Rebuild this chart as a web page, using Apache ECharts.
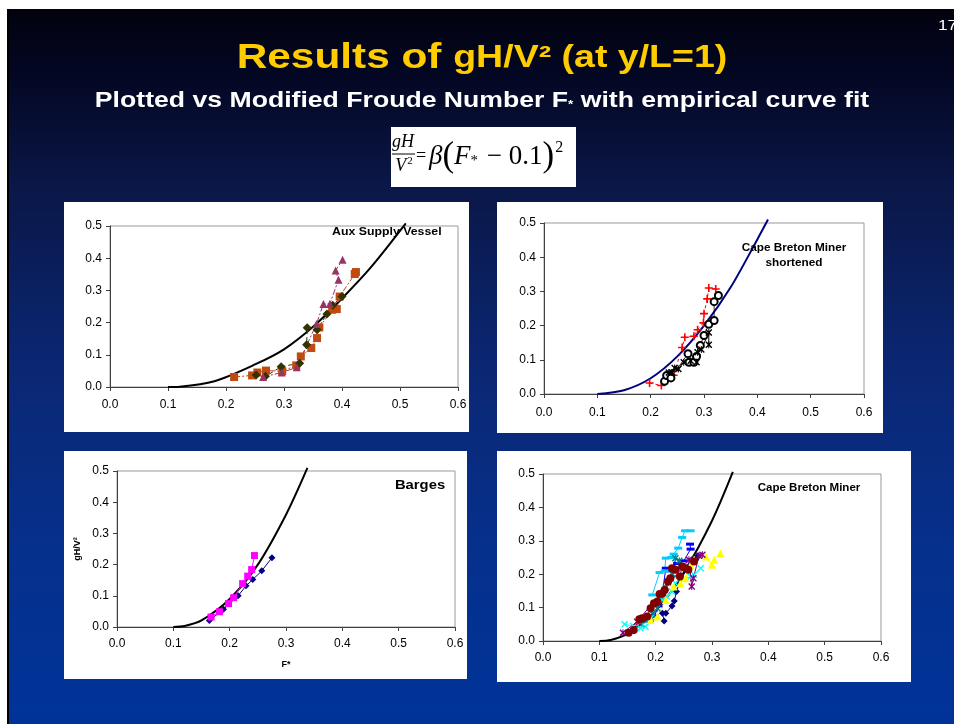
<!DOCTYPE html>
<html><head><meta charset="utf-8">
<script src="https://cdn.jsdelivr.net/npm/echarts@6/dist/echarts.min.js"></script>
<style>html,body{margin:0;padding:0;background:#fff}#c{width:954px;height:724px}</style>
</head><body><div id="c"></div>
<script>
// ---------- DATA ----------
const xMin = 0, xMax = 0.6, xStep = 0.1;
const yMin = 0, yMax = 0.5, yStep = 0.1;
const panelLabels = ['Aux Supply Vessel', 'Cape Breton Miner\nshortened', 'Barges', 'Cape Breton Miner'];
const yAxisTitle = 'gH/V²';
const xAxisTitle = 'F*';

// Panel 1: Aux Supply Vessel
const auxFit = [[0.10,0.000],[0.12,0.001],[0.18,0.018],[0.25,0.070],[0.30,0.117],[0.35,0.187],[0.40,0.275],[0.45,0.372],[0.51,0.508]];
const auxSquares = [[0.214,0.031],[0.245,0.036],[0.254,0.045],[0.269,0.051],[0.297,0.049],[0.321,0.067],[0.329,0.095],[0.347,0.121],[0.357,0.152],[0.361,0.185],[0.383,0.240],[0.391,0.242],[0.396,0.281],[0.422,0.351],[0.424,0.357]];
const auxDiamonds = [[0.252,0.037],[0.268,0.033],[0.295,0.063],[0.327,0.074],[0.339,0.131],[0.340,0.184],[0.357,0.178],[0.374,0.227],[0.384,0.254],[0.400,0.281]];
const auxTriangles = [[0.264,0.031],[0.296,0.045],[0.322,0.061],[0.356,0.196],[0.368,0.258],[0.379,0.258],[0.394,0.333],[0.389,0.362],[0.401,0.395]];

// Panel 2: Cape Breton Miner shortened
const cbsFit = [[0.10,0.000],[0.15,0.011],[0.20,0.046],[0.25,0.110],[0.30,0.200],[0.35,0.312],[0.40,0.452],[0.42,0.510]];
const cbsPlus = [[0.198,0.032],[0.220,0.025],[0.243,0.055],[0.259,0.136],[0.264,0.166],[0.281,0.169],[0.288,0.188],[0.299,0.208],[0.300,0.235],[0.306,0.278],[0.309,0.310],[0.322,0.307]];
const cbsCircles = [[0.226,0.037],[0.230,0.054],[0.238,0.047],[0.270,0.118],[0.272,0.093],[0.281,0.093],[0.286,0.110],[0.293,0.142],[0.300,0.171],[0.309,0.204],[0.319,0.215],[0.319,0.270],[0.327,0.288]];
const cbsStars = [[0.234,0.063],[0.240,0.063],[0.245,0.076],[0.252,0.073],[0.262,0.093],[0.275,0.097],[0.286,0.093],[0.288,0.122],[0.295,0.130],[0.309,0.180],[0.309,0.144]];

// Panel 3: Barges
const bargeFit = [[0.10,0.000],[0.12,0.003],[0.15,0.021],[0.20,0.090],[0.25,0.200],[0.30,0.360],[0.338,0.510]];
const bargeDiamonds = [[0.164,0.021],[0.189,0.057],[0.215,0.100],[0.229,0.132],[0.241,0.152],[0.257,0.180],[0.275,0.222]];
const bargeSquares = [[0.167,0.032],[0.182,0.049],[0.198,0.075],[0.207,0.094],[0.223,0.139],[0.232,0.163],[0.239,0.184],[0.244,0.229]];

// Panel 4: Cape Breton Miner
const cbmFit = [[0.10,0.000],[0.12,0.003],[0.15,0.022],[0.20,0.090],[0.25,0.205],[0.30,0.360],[0.337,0.506]];
const cbmNavy = [[0.215,0.060],[0.212,0.083],[0.218,0.083],[0.229,0.105],[0.233,0.120],[0.237,0.148],[0.240,0.170],[0.258,0.222],[0.271,0.243],[0.275,0.255]];
const cbmBlue = [[0.190,0.060],[0.198,0.075],[0.205,0.105],[0.210,0.120],[0.218,0.218],[0.225,0.210],[0.238,0.232],[0.250,0.240],[0.262,0.275],[0.261,0.290]];
const cbmSky = [[0.194,0.138],[0.207,0.205],[0.216,0.210],[0.218,0.248],[0.228,0.250],[0.232,0.260],[0.240,0.278],[0.247,0.310],[0.252,0.330],[0.262,0.330]];
const cbmTeal = [[0.175,0.050],[0.185,0.062],[0.195,0.080],[0.203,0.098],[0.212,0.128],[0.218,0.160],[0.222,0.175],[0.230,0.200],[0.235,0.248],[0.242,0.240]];
const cbmCyan = [[0.145,0.050],[0.160,0.045],[0.173,0.038],[0.182,0.043],[0.191,0.068],[0.212,0.123],[0.220,0.133],[0.229,0.148],[0.235,0.173],[0.262,0.193],[0.268,0.198],[0.280,0.218]];
const cbmYellow = [[0.191,0.063],[0.203,0.073],[0.218,0.123],[0.232,0.163],[0.244,0.173],[0.253,0.188],[0.262,0.228],[0.268,0.243],[0.289,0.253],[0.300,0.228],[0.304,0.243],[0.315,0.263]];
const cbmPurple = [[0.142,0.025],[0.167,0.058],[0.259,0.243],[0.264,0.163],[0.267,0.188],[0.277,0.255],[0.283,0.258]];
const cbmMaroon = [[0.152,0.025],[0.161,0.033],[0.171,0.065],[0.176,0.068],[0.185,0.073],[0.191,0.098],[0.197,0.113],[0.203,0.118],[0.207,0.141],[0.212,0.143],[0.216,0.153],[0.222,0.178],[0.226,0.188],[0.229,0.218],[0.235,0.213],[0.243,0.193],[0.247,0.223],[0.253,0.218],[0.258,0.213],[0.268,0.238]];

// ---------- CHART ----------
const FONT = 'Liberation Sans, Arial, sans-serif';
const SERIF = 'Liberation Serif, Times New Roman, serif';
const PLUS = 'path://M4,0H6V4H10V6H6V10H4V6H0V4H4Z';
const XMARK = 'path://M0,1.4L1.4,0L10,8.6L8.6,10Z M8.6,0L10,1.4L1.4,10L0,8.6Z';
const STAR = 'path://M0,1.4L1.4,0L10,8.6L8.6,10Z M8.6,0L10,1.4L1.4,10L0,8.6Z M4.3,0H5.7V10H4.3Z';
const DASH = 'path://M0,0H10V3H0Z';

const grids = [
  {left:110, top:226, width:348, height:161},
  {left:544, top:223, width:320, height:171},
  {left:117, top:471, width:338, height:156},
  {left:543, top:474, width:338, height:167}
];
const xLabelMargin = [12, 13, 11, 11];
const fmt = v => v.toFixed(1);
function xAx(i){
  const a = {gridIndex:i, type:'value', min:xMin, max:xMax, interval:xStep,
    axisLine:{show:true, lineStyle:{color:'#404040', width:1}},
    axisTick:{show:true, inside:false, length:4, lineStyle:{color:'#404040'}},
    axisLabel:{formatter:fmt, color:'#000', fontFamily:FONT, fontSize:12, margin:xLabelMargin[i]},
    splitLine:{show:false}};
  if(i===2){ a.name = xAxisTitle; a.nameLocation='middle'; a.nameGap=33; a.nameTextStyle={fontFamily:FONT, fontWeight:'bold', fontSize:9, color:'#000'}; }
  return a;
}
function yAx(i){
  const a = {gridIndex:i, type:'value', min:yMin, max:yMax, interval:yStep,
    axisLine:{show:true, lineStyle:{color:'#404040', width:1}},
    axisTick:{show:true, inside:false, length:4, lineStyle:{color:'#404040'}},
    axisLabel:{formatter:fmt, color:'#000', fontFamily:FONT, fontSize:12, margin:8},
    splitLine:{show:false}};
  if(i===2){ a.name = yAxisTitle; a.nameLocation='middle'; a.nameGap=35; a.nameRotate=90; a.nameTextStyle={fontFamily:FONT, fontWeight:'bold', fontSize:9, color:'#000'}; }
  return a;
}
function fit(i, data, color){
  return {type:'line', xAxisIndex:i, yAxisIndex:i, data, showSymbol:false, symbol:'none', smooth:0.3, clip:false,
    lineStyle:{color, width:2}, z:2, silent:true};
}
function pts(i, data, color, symbol, size, ls, extra){
  return Object.assign({type:'line', xAxisIndex:i, yAxisIndex:i, data, symbol, symbolSize:size,
    itemStyle:{color, borderColor:color, borderWidth: symbol==='emptyCircle'?1:0},
    lineStyle:Object.assign({color, width:1}, ls||{}), z:3, silent:true}, extra||{});
}

const slideGrad = new echarts.graphic.LinearGradient(0,0,0,1,[
  {offset:0, color:'#02020e'},{offset:0.08, color:'#030620'},{offset:0.25, color:'#0a1748'},
  {offset:0.5, color:'#0b2773'},{offset:0.75, color:'#06308c'},{offset:1, color:'#003399'}]);

const panels = [
  {x:64, y:202, w:405, h:230},
  {x:497, y:202, w:386, h:231},
  {x:64, y:451, w:403, h:228},
  {x:497, y:451, w:414, h:231}
];

function label(txt, x, y, size, sx, align){
  return {type:'text', z:50, x, y, scaleX:sx, style:{text:txt, x:0, y:0, align:align||'center', verticalAlign:'middle',
    font:'bold '+size+'px '+FONT, fill:'#000', lineHeight:Math.round(size*1.35)}};
}

const graphic = [
  {type:'rect', z:-100, shape:{x:7, y:9, width:947, height:715}, style:{fill:slideGrad}},
  {type:'rect', z:-99, shape:{x:7, y:9, width:2, height:715}, style:{fill:'#000'}},
  ...panels.map(p=>({type:'rect', z:-90, shape:{x:p.x, y:p.y, width:p.w, height:p.h}, style:{fill:'#fff'}})),
  // slide number
  {type:'text', z:50, x:938, y:26, scaleX:1.15, style:{text:'17', x:0, y:0, fill:'#fff', font:'15px '+FONT, verticalAlign:'middle'}},
  // title
  {type:'text', z:50, x:482, y:58, scaleX:1.21, style:{x:0, y:0, align:'center', verticalAlign:'middle',
    text:'{a|Results of }{b|gH/V² (at y/L=1)}',
    rich:{a:{fontFamily:FONT, fontWeight:'bold', fontSize:35, fill:'#ffcc00'},
          b:{fontFamily:FONT, fontWeight:'bold', fontSize:31, fill:'#ffcc00'}}}},
  // subtitle
  {type:'text', z:50, x:482, y:101, scaleX:1.21, style:{x:0, y:0, align:'center', verticalAlign:'middle',
    text:'{a|Plotted vs Modified Froude Number F}{s|*}{a| with empirical curve fit}',
    rich:{a:{fontFamily:FONT, fontWeight:'bold', fontSize:22, fill:'#fff'},
          s:{fontFamily:FONT, fontWeight:'bold', fontSize:11, fill:'#fff', padding:[8,0,0,0]}}}},
  // formula box
  {type:'rect', z:-80, shape:{x:391, y:127, width:185, height:60}, style:{fill:'#fff'}},
  {type:'text', z:50, style:{text:'gH', x:403, y:142, align:'center', verticalAlign:'middle', font:'italic 18px '+SERIF, fill:'#000'}},
  {type:'line', z:50, shape:{x1:392, y1:154, x2:415, y2:154}, style:{stroke:'#000', lineWidth:1}},
  {type:'text', z:50, style:{x:404, y:166, align:'center', verticalAlign:'middle', text:'{v|V}{e|2}',
    rich:{v:{fontFamily:SERIF, fontStyle:'italic', fontSize:18, fill:'#000'}, e:{fontFamily:SERIF, fontSize:11, fill:'#000', padding:[0,0,9,1]}}}},
  {type:'text', z:50, style:{text:'=', x:421, y:156, align:'center', verticalAlign:'middle', font:'18px '+SERIF, fill:'#000'}},
  {type:'text', z:50, style:{x:429, y:157, align:'left', verticalAlign:'middle',
    text:'{b|β}{p|(}{f|F}{s|*}{n| − 0.1}{p|)}{e|2}',
    rich:{b:{fontFamily:SERIF, fontStyle:'italic', fontSize:27, fill:'#000'},
          p:{fontFamily:SERIF, fontSize:35, fill:'#000'},
          f:{fontFamily:SERIF, fontStyle:'italic', fontSize:27, fill:'#000'},
          s:{fontFamily:SERIF, fontSize:15, fill:'#000', padding:[8,2,0,0]},
          n:{fontFamily:SERIF, fontSize:27, fill:'#000'},
          e:{fontFamily:SERIF, fontSize:16, fill:'#000', padding:[0,0,18,1]}}}},
  // panel labels
  label(panelLabels[0], 332, 232, 11, 1.12, 'left'),
  label(panelLabels[1], 794, 255, 11, 1.07),
  label(panelLabels[2], 420, 485, 13, 1.14),
  label(panelLabels[3], 809, 488, 10.5, 1.1)
];

const series = [
  fit(0, auxFit, '#000'),
  pts(0, auxSquares, '#c04a10', 'rect', 8, {type:[6,2,2,2]}),
  pts(0, auxDiamonds, '#333300', 'diamond', 9, {type:[4,3]}),
  pts(0, auxTriangles, '#993366', 'triangle', 8, {type:[6,2,2,2]}),

  fit(1, cbsFit, '#000080'),
  pts(1, cbsPlus, '#ff0000', PLUS, 8, {type:[3,3]}),
  pts(1, cbsCircles, '#000', 'emptyCircle', 7, {width:0.8}),
  pts(1, cbsStars, '#000', STAR, 7, {}),

  fit(2, bargeFit, '#000'),
  pts(2, bargeDiamonds, '#000080', 'diamond', 7, {}),
  pts(2, bargeSquares, '#ff00ff', 'rect', 7, {}),

  fit(3, cbmFit, '#000'),
  pts(3, cbmNavy, '#000080', 'diamond', 7, {}),
  pts(3, cbmBlue, '#0000ff', DASH, [8,3], {}),
  pts(3, cbmSky, '#00ccff', DASH, [8,3], {}),
  pts(3, cbmTeal, '#008080', STAR, 7, {}),
  pts(3, cbmCyan, '#00ffff', XMARK, 7, {}),
  pts(3, cbmYellow, '#ffff00', 'triangle', 8, {}),
  pts(3, cbmPurple, '#800080', STAR, 7, {}),
  pts(3, cbmMaroon, '#800000', 'circle', 8, {})
];

const chart = echarts.init(document.getElementById('c'), null, {renderer:'canvas'});
chart.setOption({
  animation:false,
  grid: grids.map(g=>Object.assign({show:true, borderColor:'#999', borderWidth:1, backgroundColor:'transparent', containLabel:false}, g)),
  xAxis: [0,1,2,3].map(xAx),
  yAxis: [0,1,2,3].map(yAx),
  graphic: graphic,
  series: series
});
</script></body></html>
